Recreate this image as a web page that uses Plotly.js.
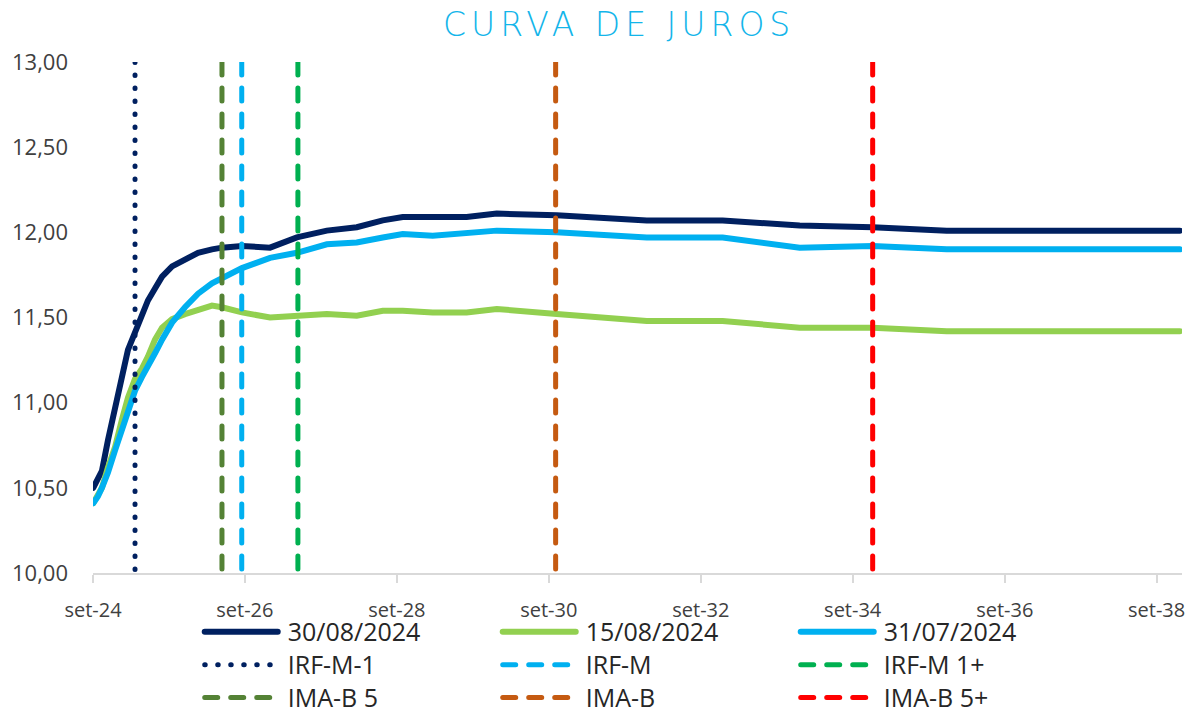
<!DOCTYPE html>
<html>
<head>
<meta charset="utf-8">
<script src="https://cdn.plot.ly/plotly-3.0.1.min.js"></script>
<style>
html,body{margin:0;padding:0;background:#fff;}
#chart{width:1193px;height:713px;}
.js-line, .legendlines path { stroke-linecap: round !important; }
.gtitle { letter-spacing: 5px; }
.legendtext { font-size: 25px !important; }
</style>
</head>
<body>
<div id="chart"></div>
<script>
// Maturity dates (x) shared by the three curves
var dates = ['2024-09-02','2024-09-25','2024-10-14','2024-11-12','2024-12-16','2025-01-18','2025-02-16','2025-03-22','2025-04-24','2025-05-23','2025-06-26','2025-07-30','2025-09-16','2025-11-17','2026-01-19','2026-03-27','2026-05-14','2026-08-18','2026-12-31','2027-05-09','2027-09-30','2028-02-21','2028-06-25','2028-09-29','2029-02-20','2029-08-02','2029-12-25','2030-10-09','2031-12-16','2032-12-15','2033-12-20','2034-12-06','2035-11-27','2038-12-22'];

var curve_30_08 = [10.50,10.55,10.60,10.78,10.95,11.15,11.31,11.42,11.52,11.60,11.67,11.74,11.80,11.84,11.88,11.90,11.91,11.92,11.91,11.97,12.01,12.03,12.07,12.09,12.09,12.09,12.11,12.10,12.07,12.07,12.04,12.03,12.01,12.01];
var curve_15_08 = [10.41,10.46,10.50,10.62,10.74,10.90,11.03,11.14,11.20,11.27,11.37,11.44,11.49,11.52,11.54,11.57,11.56,11.53,11.50,11.51,11.52,11.51,11.54,11.54,11.53,11.53,11.55,11.52,11.48,11.48,11.44,11.44,11.42,11.42];
var curve_31_07 = [10.41,10.45,10.50,10.59,10.72,10.84,10.95,11.07,11.15,11.21,11.29,11.37,11.47,11.56,11.64,11.70,11.73,11.79,11.85,11.88,11.93,11.94,11.97,11.99,11.98,12.00,12.01,12.00,11.97,11.97,11.91,11.92,11.90,11.90];

var curveNames = ['30/08/2024','15/08/2024','31/07/2024'];
var curveColors = ['#002060','#92D050','#00B0F0'];

// Index durations (vertical markers)
var indexNames = ['IRF-M-1','IRF-M','IRF-M 1+','IMA-B 5','IMA-B','IMA-B 5+'];
var indexDates = ['2025-03-22','2026-08-17','2027-05-14','2026-05-14','2030-10-04','2034-12-06'];
var indexColors = ['#002060','#00B0F0','#00B050','#548235','#C55A11','#FF0000'];
var indexDash = ['0.5px,12.5px','13px,13px','13px,13px','13px,13px','13px,13px','13px,13px'];
var yBounds = [13, 10];

var tickVals = ['2024-09-01','2026-09-01','2028-09-01','2030-09-01','2032-09-01','2034-09-01','2036-09-01','2038-09-01'];
var tickText = ['set-24','set-26','set-28','set-30','set-32','set-34','set-36','set-38'];

var series = [curve_30_08, curve_15_08, curve_31_07];
var traces = [];
series.forEach(function(s, i){
  traces.push({x: dates, y: s, name: curveNames[i], type: 'scatter', mode: 'lines',
    line: {color: curveColors[i], width: 6}});
});
indexNames.forEach(function(n, i){
  traces.push({x: [indexDates[i], indexDates[i]], y: yBounds, name: n, type: 'scatter', mode: 'lines',
    line: {color: indexColors[i], width: 5, dash: indexDash[i]}});
});

var layout = {
  width: 1193, height: 713,
  margin: {l: 93, r: 11, t: 62, b: 140, autoexpand: false},
  paper_bgcolor: '#fff', plot_bgcolor: '#fff',
  separators: ',.',
  font: {family: '"Open Sans", "Noto Sans", sans-serif', color: '#404040', size: 20},
  title: {text: 'CURVA DE JUROS', x: 0.519, xanchor: 'center', y: 0.966, yanchor: 'middle',
    font: {family: '"DejaVu Sans", sans-serif', size: 33, color: '#13B5EA', weight: 200}},
  showlegend: true,
  legend: {orientation: 'h', x: 0.098, xanchor: 'left', y: -0.073, yanchor: 'top',
    font: {size: 23, color: '#262626'}, itemwidth: 78, entrywidth: 205, entrywidthmode: 'pixels',
    tracegroupgap: 0, traceorder: 'normal', bgcolor: 'rgba(0,0,0,0)'},
  xaxis: {type: 'date', range: ['2024-09-01','2039-01-01'], tickvals: tickVals, ticktext: tickText,
    showgrid: false, zeroline: false, showline: true, linecolor: '#D9D9D9', linewidth: 2,
    ticks: 'outside', ticklen: 8, tickwidth: 2, tickcolor: '#D9D9D9',
    tickfont: {size: 20, color: '#404040'}, ticklabelstandoff: 10, fixedrange: true},
  yaxis: {range: [10, 13], dtick: 0.5, tick0: 10, tickformat: '.2f', showgrid: false, zeroline: false,
    showline: false, ticks: '', tickfont: {size: 22, color: '#404040'}, ticklabelstandoff: 24, fixedrange: true}
};

Plotly.newPlot('chart', traces, layout, {displayModeBar: false, staticPlot: true}).then(function(){
  var paths = document.querySelectorAll('.legendlines path');
  paths.forEach(function(p){ p.setAttribute('d', 'M5,0h73'); });
});
</script>
</body>
</html>
